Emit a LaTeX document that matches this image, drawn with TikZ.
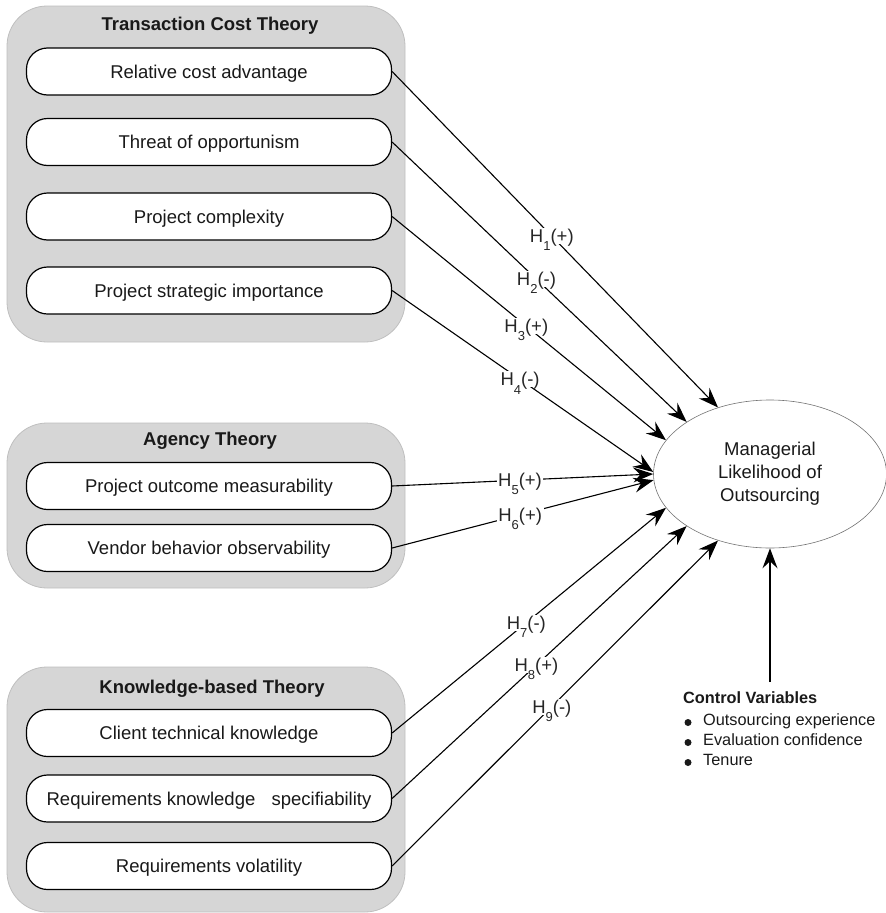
\documentclass[tikz,border=0pt]{standalone}
\usepackage{fontspec}
\setmainfont{Liberation Sans}
\usetikzlibrary{arrows.meta,shapes.geometric}

\newcommand{\hyp}[2]{H\raisebox{-0.85ex}{\fontsize{13}{13}\selectfont #1}(#2)}

\begin{document}
\begin{tikzpicture}[
        x=1pt,
        y=-1pt,
        font=\fontsize{18.5}{23}\selectfont,
        theory/.style={draw=black!25, fill=black!16, line width=0.8pt, rounded corners=40pt},
        heading/.style={font=\fontsize{18.5}{22}\selectfont\bfseries, anchor=base, text=black!90},
        pill/.style={draw=black, fill=white, line width=1.2pt, rounded corners=21pt, minimum width=365pt, minimum height=47pt, text height=13pt, text depth=0pt, inner sep=0pt, text=black!90},
        hypo/.style={-{Stealth[length=20pt, width=15pt, inset=7pt]}, line width=1.1pt},
        hlabel/.style={fill=white, inner sep=1.5pt, text height=13pt, text depth=0pt, text=black!85},
        outcome/.style={ellipse, draw=black!55, line width=0.6pt, minimum width=233pt, minimum height=148pt, align=center, inner sep=0pt, text=black!90},
        cvtext/.style={anchor=base west, font=\fontsize{16.3}{20}\selectfont, inner sep=0pt, text=black!90}
    ]
        \useasboundingbox (0,0) rectangle (886,913);

        % theory groups
        \draw[theory] (7,6) rectangle (405,342);
        \draw[theory] (7,423) rectangle (405,588);
        \draw[theory] (7,667) rectangle (405,912);
        \node[heading] (tct) at (210,30) {Transaction Cost Theory};
        \node[heading] (agt) at (210,445) {Agency Theory};
        \node[heading] (kbt) at (212,693) {Knowledge-based Theory};

        % constructs
        \foreach \y/\nm/\lab in {71.5/rca/Relative cost advantage,142/opp/Threat of opportunism,216.5/cpx/Project complexity,290.5/imp/Project strategic importance,
            486/pom/Project outcome measurability,548/vbo/Vendor behavior observability,
            733/ctk/Client technical knowledge,798.5/rks/Requirements knowledge\hspace{0.6em} specifiability,866/rvo/Requirements volatility} {
            \node[pill] (\nm) at (209,\y) {\lab};
        }

        \node[outcome] (mlo) at (770,474) {Managerial\\Likelihood of\\Outsourcing};

        % hypotheses
        \foreach \src/\ang/\n/\sgn in {rca/128/1/+,opp/148/2/-,cpx/162.6/3/+,imp/179/4/-,pom/180/5/+,vbo/183/6/+,ctk/198/7/-,rks/212.6/8/+,rvo/232.2/9/-} {
            \draw[hypo] (\src.east) -- (mlo.\ang) node[hlabel, pos=0.49] {\hyp{\n}{\sgn}};
        }

        % control variables
        \coordinate (ctrltop) at (770,682);
        \draw[hypo] (ctrltop) -- (mlo.south);
        \node[cvtext, font=\fontsize{16.3}{20}\selectfont\bfseries] (ctrl) at (683,703) {Control Variables};
        \foreach \yy/\cv [count=\i] in {725/Outsourcing experience,745/Evaluation confidence,765/Tenure} {
            \fill[black!90] (688,\yy-2.5) circle (3.5pt);
            \node[cvtext] (cv\i) at (703,\yy) {\cv};
        }
    \end{tikzpicture}
\end{document}
